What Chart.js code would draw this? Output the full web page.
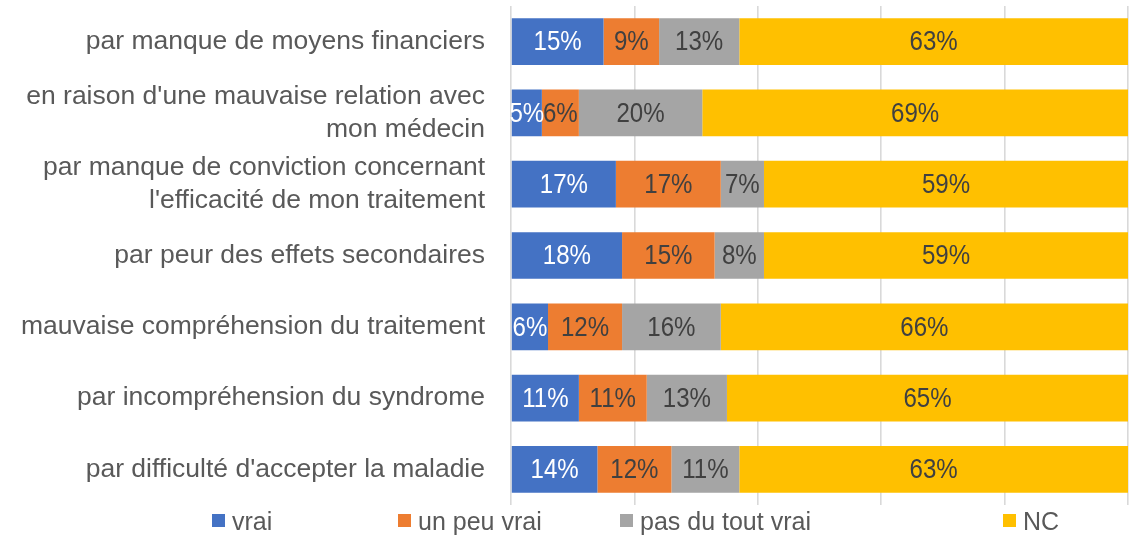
<!DOCTYPE html>
<html><head><meta charset="utf-8">
<script src="https://cdn.jsdelivr.net/npm/chart.js@4/dist/chart.umd.min.js"></script>
<style>
html,body{margin:0;padding:0;background:#fff;}
#wrap{position:relative;width:1132px;height:535px;}
canvas{position:absolute;left:0;top:0;}
.lg{position:absolute;top:506px;font-family:"Liberation Sans",Arial,sans-serif;font-size:25px;color:#595959;white-space:nowrap;line-height:30px;}
.lg span.sw{position:absolute;left:0;top:8px;width:13px;height:13px;}
.lg span.tx{position:absolute;left:20px;top:0;}
</style></head><body>
<div id="wrap"><canvas id="c" width="1132" height="535"></canvas>
<div id="legend"></div></div>
<script>
const categories = [
  "par manque de moyens financiers",
  ["en raison d'une mauvaise relation avec", "mon médecin"],
  ["par manque de conviction concernant", "l'efficacité de mon traitement"],
  "par peur des effets secondaires",
  "mauvaise compréhension du traitement",
  "par incompréhension du syndrome",
  "par difficulté d'accepter la maladie"
];
const seriesNames = ["vrai", "un peu vrai", "pas du tout vrai", "NC"];
const vrai = [15, 5, 17, 18, 6, 11, 14];
const unPeuVrai = [9, 6, 17, 15, 12, 11, 12];
const pasDuToutVrai = [13, 20, 7, 8, 16, 13, 11];
const nc = [63, 69, 59, 59, 66, 65, 63];
const colors = ["#4472C4", "#ED7D31", "#A5A5A5", "#FFC000"];
const labelColors = ["#ffffff", "#404040", "#404040", "#404040"];
const legendX = [212, 398, 620, 1003];

const FONT = '"Liberation Sans",Arial,sans-serif';
const seriesData = [vrai, unPeuVrai, pasDuToutVrai, nc];

const labelPlugin = {
  id: 'barLabels',
  afterDatasetsDraw(chart) {
    const ctx = chart.ctx;
    const k = 0.86;
    ctx.save();
    ctx.font = '28px ' + FONT;
    ctx.textAlign = 'center';
    ctx.textBaseline = 'middle';
    chart.data.datasets.forEach((ds, i) => {
      const meta = chart.getDatasetMeta(i);
      meta.data.forEach((bar, j) => {
        const left = Math.min(bar.x, bar.base), right = Math.max(bar.x, bar.base);
        ctx.fillStyle = labelColors[i];
        ctx.save();
        ctx.translate((left + right) / 2, bar.y + 1);
        ctx.scale(k, 1);
        ctx.fillText(ds.data[j] + '%', 0, 0);
        ctx.restore();
      });
    });
    ctx.restore();
  }
};

new Chart(document.getElementById('c'), {
  type: 'bar',
  data: {
    labels: categories,
    datasets: seriesNames.map((n, i) => ({
      label: n,
      data: seriesData[i],
      backgroundColor: colors[i],
      borderWidth: 0,
      categoryPercentage: 0.655,
      barPercentage: 1.0
    }))
  },
  options: {
    indexAxis: 'y',
    responsive: false,
    animation: false,
    layout: { padding: { top: 6, bottom: 30, right: 4, left: 0 } },
    plugins: { legend: { display: false }, tooltip: { enabled: false } },
    scales: {
      x: {
        stacked: true, min: 0, max: 100,
        afterFit: s => { s.height = 0; s.paddingLeft = 0; s.paddingRight = 0; },
        ticks: { display: false, stepSize: 20 },
        grid: { color: '#d9d9d9', lineWidth: 1.6, drawTicks: false },
        border: { display: false }
      },
      y: {
        stacked: true,
        afterFit: s => { s.width = 511; s.paddingTop = 0; s.paddingBottom = 0; },
        grid: { display: false, drawTicks: false },
        border: { display: false },
        ticks: { color: '#595959', padding: 26, font: { family: FONT, size: 26.5, lineHeight: 1.23 } }
      }
    }
  },
  plugins: [labelPlugin]
});

const lg = document.getElementById('legend');
seriesNames.forEach((n, i) => {
  const d = document.createElement('div');
  d.className = 'lg';
  d.style.left = legendX[i] + 'px';
  d.innerHTML = '<span class="sw" style="background:' + colors[i] + '"></span><span class="tx">' + n + '</span>';
  lg.appendChild(d);
});
</script>
</body></html>
